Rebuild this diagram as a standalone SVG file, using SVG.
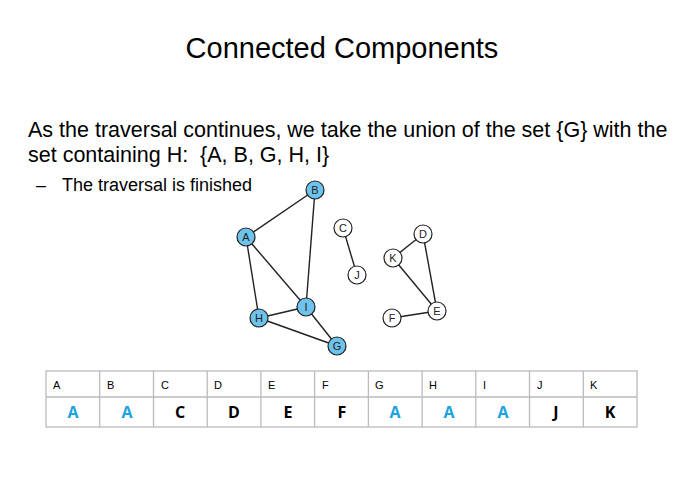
<svg xmlns="http://www.w3.org/2000/svg" width="700" height="485" viewBox="0 0 700 485">
<style>
text{font-family:"Liberation Sans",Arial,sans-serif}
.n circle{stroke:#222;stroke-width:1.2}
.v circle{fill:#6ec3ec}
.u circle{fill:#fff}
.n text{font-size:11px;text-anchor:middle;fill:#222}
.e line{stroke:#222;stroke-width:1.4}
.c rect{fill:none;stroke:#bbb;stroke-width:1.3}
.h{font-size:11px;fill:#000}
.val{font-family:"Open Sans","DejaVu Sans",sans-serif;font-size:16px;font-weight:bold;text-anchor:middle}
</style>
<rect width="700" height="485" fill="#fff"/>
<text x="342" y="58" font-size="29" text-anchor="middle">Connected Components</text>
<text x="28" y="137" font-size="21.5">As the traversal continues, we take the union of the set {G} with the</text>
<text x="28" y="162" font-size="21.5" xml:space="preserve">set containing H:  {A, B, G, H, I}</text>
<text x="36" y="191" font-size="18">–</text>
<text x="62" y="191" font-size="18">The traversal is finished</text>
<g class="e">
<line x1="246" y1="237" x2="315" y2="190"/>
<line x1="315" y1="190" x2="306" y2="307"/>
<line x1="246" y1="237" x2="259" y2="318"/>
<line x1="246" y1="237" x2="306" y2="307"/>
<line x1="259" y1="318" x2="306" y2="307"/>
<line x1="259" y1="318" x2="337" y2="346"/>
<line x1="306" y1="307" x2="337" y2="346"/>
<line x1="343" y1="228" x2="357" y2="275"/>
<line x1="423" y1="234" x2="393" y2="258"/>
<line x1="423" y1="234" x2="437" y2="311"/>
<line x1="393" y1="258" x2="437" y2="311"/>
<line x1="392" y1="318" x2="437" y2="311"/>
</g>
<g id="B" class="n v"><circle cx="315" cy="190" r="9"/><text x="315" y="194">B</text></g>
<g id="A" class="n v"><circle cx="246" cy="237" r="9"/><text x="246" y="241">A</text></g>
<g id="H" class="n v"><circle cx="259" cy="318" r="9"/><text x="259" y="322">H</text></g>
<g id="I" class="n v"><circle cx="306" cy="307" r="9"/><text x="306" y="311">I</text></g>
<g id="G" class="n v"><circle cx="337" cy="346" r="9"/><text x="337" y="350">G</text></g>
<g id="C" class="n u"><circle cx="343" cy="228" r="9"/><text x="343" y="232">C</text></g>
<g id="J" class="n u"><circle cx="357" cy="275" r="9"/><text x="357" y="279">J</text></g>
<g id="D" class="n u"><circle cx="423" cy="234" r="9"/><text x="423" y="238">D</text></g>
<g id="K" class="n u"><circle cx="393" cy="258" r="9"/><text x="393" y="262">K</text></g>
<g id="E" class="n u"><circle cx="437" cy="311" r="9"/><text x="437" y="315">E</text></g>
<g id="F" class="n u"><circle cx="392" cy="318" r="9"/><text x="392" y="322">F</text></g>
<g id="table" class="c">
<rect x="46" y="371" width="591" height="56"/>
<line x1="46" y1="397" x2="637" y2="397" stroke="#bbb" stroke-width="1.3"/>
<g stroke="#bbb" stroke-width="1.3">
<line x1="99.7" y1="371" x2="99.7" y2="427"/><line x1="153.5" y1="371" x2="153.5" y2="427"/><line x1="207.2" y1="371" x2="207.2" y2="427"/><line x1="260.9" y1="371" x2="260.9" y2="427"/><line x1="314.6" y1="371" x2="314.6" y2="427"/><line x1="368.4" y1="371" x2="368.4" y2="427"/><line x1="422.1" y1="371" x2="422.1" y2="427"/><line x1="475.8" y1="371" x2="475.8" y2="427"/><line x1="529.5" y1="371" x2="529.5" y2="427"/><line x1="583.3" y1="371" x2="583.3" y2="427"/>
</g>
<text class="h" x="53" y="389">A</text><text class="h" x="107" y="389">B</text><text class="h" x="161" y="389">C</text><text class="h" x="214" y="389">D</text><text class="h" x="268" y="389">E</text><text class="h" x="322" y="389">F</text><text class="h" x="375" y="389">G</text><text class="h" x="429" y="389">H</text><text class="h" x="483" y="389">I</text><text class="h" x="537" y="389">J</text><text class="h" x="590" y="389">K</text>
<text class="val" x="73" y="418" fill="#1aa3e0">A</text><text class="val" x="127" y="418" fill="#1aa3e0">A</text><text class="val" x="180" y="418">C</text><text class="val" x="234" y="418">D</text><text class="val" x="288" y="418">E</text><text class="val" x="342" y="418">F</text><text class="val" x="395" y="418" fill="#1aa3e0">A</text><text class="val" x="449" y="418" fill="#1aa3e0">A</text><text class="val" x="503" y="418" fill="#1aa3e0">A</text><text class="val" x="556" y="418">J</text><text class="val" x="610" y="418">K</text>
</g>
</svg>
